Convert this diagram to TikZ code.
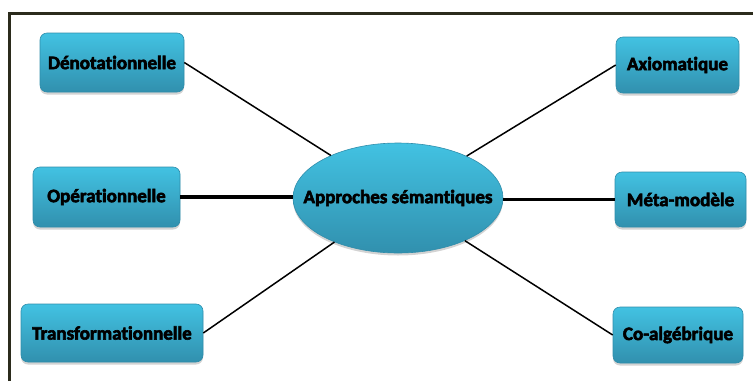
\documentclass[tikz,border=0pt]{standalone}
\usepackage{fontspec}
\setmainfont{Carlito}[Ligatures=NoCommon, BoldFeatures={FakeBold=3}]
\usetikzlibrary{shapes.geometric,shadows}

\definecolor{boxtop}{HTML}{42C2E2}
\definecolor{boxbot}{HTML}{3190AE}
\definecolor{boxline}{HTML}{2F8DAB}
\definecolor{framecol}{HTML}{2B2B1C}

\tikzset{
  concept/.style={draw=boxline, line width=0.6pt, rounded corners=7pt,
    top color=boxtop, bottom color=boxbot,
    drop shadow={shadow xshift=0pt, shadow yshift=-2.5pt, opacity=0.35},
    font=\fontsize{19}{22}\selectfont\bfseries, inner sep=0pt},
  hub/.style={ellipse, draw=boxline, line width=0.6pt,
    top color=boxtop, bottom color=boxbot,
    drop shadow={shadow xshift=0pt, shadow yshift=-2.5pt, opacity=0.35},
    font=\fontsize{19}{22}\selectfont\bfseries, inner xsep=-25pt, inner ysep=0pt},
  link/.style={line width=1.5pt},
  strong link/.style={line width=3.5pt}
}

\begin{document}
\begin{tikzpicture}[x=1pt, y=-1pt]
    \useasboundingbox (0,0) rectangle (753,381);
    \draw[framecol, line width=2.5pt] (9.5,381) -- (9.5,13.5) -- (753,13.5);

    % centre
    \node[hub, minimum width=210, minimum height=110] (app) at (398,198)
        {\raisebox{3pt}{Approches sémantiques}};

    % left side
    \node[concept, minimum width=144, minimum height=59] (den) at (112,62.5) {Dénotationnelle};
    \node[concept, minimum width=147, minimum height=60] (ope) at (106.5,197) {Opérationnelle};
    \node[concept, minimum width=182, minimum height=58] (tra) at (112,333) {Transformationnelle};

    % right side
    \node[concept, minimum width=123, minimum height=56] (axi) at (677.5,65) {Axiomatique};
    \node[concept, minimum width=131, minimum height=55] (met) at (680.5,199.5) {Méta-modèle};
    \node[concept, minimum width=130, minimum height=56] (coa) at (678,335) {Co-algébrique};

    \draw[link] (den.east) -- (app);
    \draw[strong link] (ope.east) -- (ope.east -| app.west);
    \draw[link] (tra.east) -- (app);
    \draw[link] (axi.west) -- (app);
    \draw[strong link] (met.west) -- (met.west -| app.east);
    \draw[link] (coa.west) -- (app);
\end{tikzpicture}
\end{document}
